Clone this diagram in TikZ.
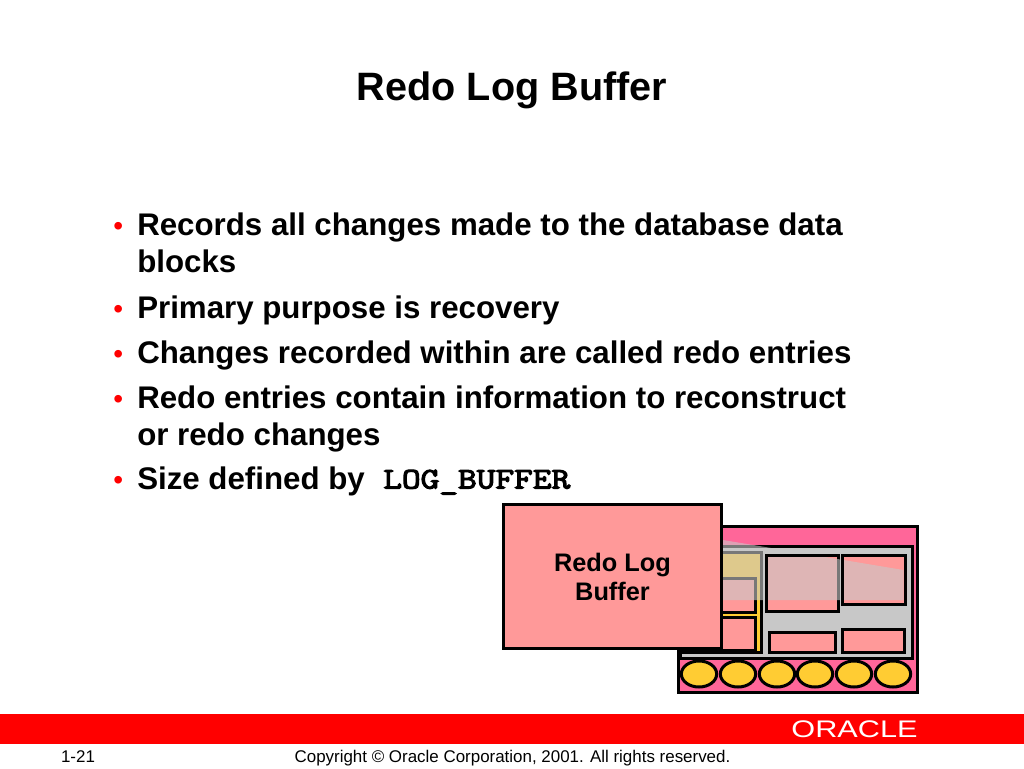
\documentclass[tikz,border=0pt]{standalone}
\usepackage{fontspec}
\setmainfont{Liberation Sans}
\newfontfamily\courfont[FakeBold=3.5]{Latin Modern Mono}
\definecolor{panelpink}{HTML}{FF6699}
\definecolor{boxpink}{HTML}{FF9999}
\definecolor{panelgray}{HTML}{C8C8C8}
\definecolor{ovalyellow}{HTML}{FFCC33}
\definecolor{bandred}{HTML}{FF0000}
\usetikzlibrary{shapes.geometric}
\tikzset{
  px/.style={x=0.75pt,y=-0.75pt},
  panel/.style={draw=black,line width=2.25pt,line join=miter},
  thin panel/.style={draw=black,line width=2.25pt},
  body/.style={anchor=base west,inner sep=0pt,font=\bfseries\fontsize{23.45}{26}\selectfont},
  bullet/.style={anchor=base west,inner sep=0pt,text=bandred,font=\fontsize{21}{26}\selectfont},
  foot/.style={anchor=base,inner sep=0pt,font=\fontsize{12.7}{14}\selectfont},
  oval/.style={ellipse,draw=black,line width=2.25pt,fill=ovalyellow,minimum width=26.5pt,minimum height=19.5pt,inner sep=0pt},
}
\begin{document}
\begin{tikzpicture}[px]
\useasboundingbox (0,0) rectangle (1024,768);
\fill[white] (0,0) rectangle (1024,768);
% title
\node[anchor=base,inner sep=0pt,font=\bfseries\fontsize{29.7}{32}\selectfont] (title) at (512,100) {Redo Log Buffer};
% bullets
\foreach \n/\y in {a/235,b/318,c/363,d/408,e/489}{
  \node[bullet] (bul\n) at (113,\y) {•};
}
\node[body] (l1) at (137,235.5) {Records all changes made to the database data};
\node[body] (l2) at (137,272.5) {blocks};
\node[body] (l3) at (137,318.5) {Primary purpose is recovery};
\node[body] (l4) at (137,363.5) {Changes recorded within are called redo entries};
\node[body] (l5) at (137,408.5) {Redo entries contain information to reconstruct};
\node[body] (l6) at (137,445.5) {or redo changes};
\node[body] (l7) at (137,489) {Size defined by};
\node[anchor=base west,inner sep=0pt] (l8) at (383,488.5) {\scalebox{1.21}[1]{\courfont\fontsize{22.5}{26}\selectfont LOG\_BUFFER}};
% SGA panel
\draw[panel,fill=panelpink] (678,526) rectangle (917,692);
\draw[panel,fill=panelgray] (680,546) rectangle (912,658);
\draw[thin panel,fill=ovalyellow] (683,552) rectangle (761,652);
\draw[thin panel,fill=boxpink] (683,578) rectangle (755,612);
\draw[thin panel,fill=boxpink] (683,617) rectangle (755,650);
\draw[thin panel,fill=boxpink] (766,555) rectangle (838,611);
\draw[thin panel,fill=boxpink] (842,555) rectangle (905,604);
\draw[thin panel,fill=boxpink] (769,632) rectangle (835,652);
\draw[thin panel,fill=boxpink] (842,629) rectangle (904,652);
\foreach \i/\x in {1/699,2/738,3/777,4/815,5/854,6/893}{
  \node[oval] (o\i) at (\x,674) {};
}
% translucent callout wedge
\fill[panelgray,opacity=.6] (723,540) -- (903.5,570) -- (903.5,600) -- (723,600) -- cycle;
% lines that lie on top of the wedge
\draw[thin panel,line cap=rect] (766,611) -- (766,555) -- (838,555);
\draw[thin panel,line cap=rect] (842,604) -- (842,555) -- (905,555) -- (905,604) -- cycle;
% callout
\node[panel,fill=boxpink,anchor=north west,minimum width=163.5pt,minimum height=108pt,inner sep=0pt] (buf) at (502,502.6) {};
\node[align=center,inner sep=0pt,font=\bfseries\fontsize{19}{21.5}\selectfont] (buflabel) at (612.5,577) {Redo Log\\Buffer};
% footer
\fill[bandred] (0,714) rectangle (1024,744);
\node[inner sep=0pt,text=white] (oracle) at (854.5,729) {\scalebox{1.277}[1]{\fontsize{18}{20}\selectfont ORACLE}};
\node[foot] (page) at (78,762) {1-21};
\node[foot] (copy) at (512.5,762) {Copyright © Oracle Corporation, 2001. All rights reserved.};
\end{tikzpicture}
\end{document}
